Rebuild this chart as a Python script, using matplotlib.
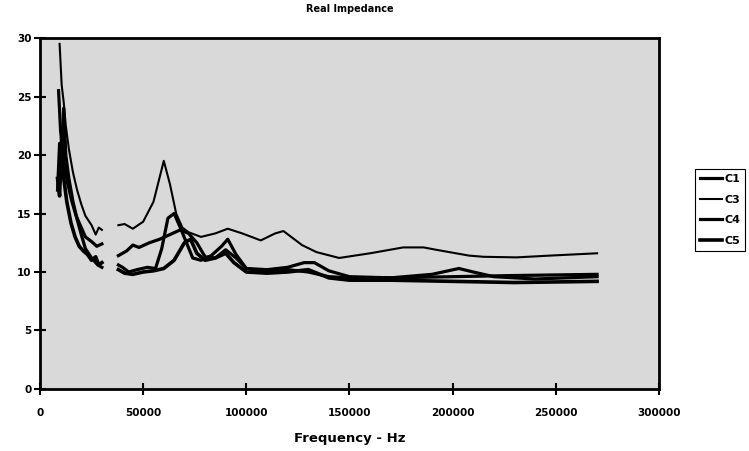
import numpy as np
import matplotlib
matplotlib.use("Agg")
import matplotlib.pyplot as plt

# low-frequency sweep (Hz, ohms)
f_low_c1 = [8500, 9500, 10500, 11500, 12500, 14000, 16000, 18000, 20000, 22000, 25000, 28000, 30000]
z_low_c1 = [17.0, 21.0, 18.5, 24.0, 20.0, 18.0, 16.0, 14.5, 13.2, 12.0, 11.2, 10.6, 10.4]
f_low_c3 = [9500, 10500, 11500, 12500, 14000, 16000, 18000, 20000, 22000, 25000, 27000, 28500, 30000]
z_low_c3 = [29.5, 26.0, 24.5, 22.5, 20.5, 18.5, 17.0, 15.8, 14.8, 14.0, 13.2, 13.8, 13.6]
f_low_c4 = [9000, 10000, 11000, 12000, 13500, 15500, 17500, 20000, 22000, 25000, 27500, 30000]
z_low_c4 = [25.5, 22.0, 20.5, 19.0, 17.5, 16.0, 14.8, 13.8, 13.0, 12.6, 12.2, 12.4]
f_low_c5 = [8500, 9500, 10500, 11500, 13000, 15000, 17000, 19000, 21000, 23000, 25000, 27000, 28500, 30000]
z_low_c5 = [18.0, 16.5, 21.5, 18.0, 16.0, 14.2, 13.0, 12.2, 11.8, 11.5, 11.0, 11.3, 10.6, 10.8]

# high-frequency sweep
f_hi_c1 = [38000, 42000, 45000, 48000, 53000, 58000, 63000, 68000, 72000, 76000, 80000, 85000,
           90000, 95000, 100000, 110000, 120000, 128000, 133000, 140000, 150000, 170000, 200000,
           230000, 270000]
z_hi_c1 = [11.4, 11.8, 12.3, 12.1, 12.5, 12.8, 13.2, 13.6, 13.3, 12.5, 11.3, 11.2,
           11.9, 11.2, 10.3, 10.2, 10.4, 10.8, 10.8, 10.1, 9.6, 9.5, 9.6,
           9.7, 9.8]
f_hi_c3 = [38000, 41000, 45000, 50000, 55000, 60000, 63000, 66000, 69000, 72000, 78000, 85000,
           91000, 98000, 107000, 114000, 118000, 127000, 134000, 145000, 160000, 176000, 186000,
           192000, 208000, 215000, 231000, 247000, 270000]
z_hi_c3 = [14.0, 14.1, 13.7, 14.3, 16.0, 19.5, 17.5, 15.0, 13.8, 13.4, 13.0, 13.3,
           13.7, 13.3, 12.7, 13.3, 13.5, 12.3, 11.7, 11.2, 11.6, 12.1, 12.1,
           11.9, 11.4, 11.3, 11.25, 11.4, 11.6]
f_hi_c4 = [38000, 40000, 43000, 47000, 52000, 56000, 59000, 62000, 65000, 68000, 71000, 74000,
           78000, 83000, 88000, 91000, 95000, 100000, 110000, 120000, 130000, 140000, 150000,
           170000, 190000, 203000, 210000, 220000, 240000, 270000]
z_hi_c4 = [10.6, 10.4, 10.0, 10.2, 10.4, 10.3, 12.0, 14.6, 15.0, 13.8, 12.5, 11.2,
           11.0, 11.4, 12.2, 12.8, 11.5, 10.3, 10.0, 10.2, 10.0, 9.6, 9.5,
           9.5, 9.8, 10.3, 10.0, 9.6, 9.4, 9.6]
f_hi_c5 = [38000, 41000, 45000, 50000, 55000, 60000, 65000, 70000, 73000, 76000, 80000, 85000,
           90000, 94000, 100000, 110000, 120000, 130000, 140000, 150000, 170000, 200000, 230000,
           270000]
z_hi_c5 = [10.2, 9.9, 9.8, 10.0, 10.1, 10.3, 11.0, 12.5, 12.8, 11.6, 11.0, 11.2,
           11.6, 10.8, 10.0, 9.9, 10.0, 10.2, 9.5, 9.3, 9.3, 9.2, 9.1,
           9.2]

series = [
    ("C1", f_low_c1, z_low_c1, f_hi_c1, z_hi_c1, 2.3),
    ("C3", f_low_c3, z_low_c3, f_hi_c3, z_hi_c3, 1.5),
    ("C4", f_low_c4, z_low_c4, f_hi_c4, z_hi_c4, 2.3),
    ("C5", f_low_c5, z_low_c5, f_hi_c5, z_hi_c5, 2.6),
]

fig = plt.figure(figsize=(7.49, 4.51), dpi=100)
ax = fig.add_axes([0.0534, 0.1375, 0.8264, 0.7782])
ax.set_facecolor("#d9d9d9")

for name, fl, zl, fh, zh, lw in series:
    # break the line between the two sweeps
    f = list(fl) + [np.nan] + list(fh)
    z = list(zl) + [np.nan] + list(zh)
    ax.plot(f, z, color="black", linewidth=lw, label=name, solid_joinstyle="round")

ax.set_xlim(0, 300000)
ax.set_ylim(0, 30)
ax.set_xticks(np.arange(0, 300001, 50000))
ax.set_yticks(np.arange(0, 31, 5))
ax.tick_params(direction="inout", length=8, width=1.5, labelsize=7.5, pad=2)
ax.tick_params(axis="x", pad=10)
for lab in ax.get_xticklabels() + ax.get_yticklabels():
    lab.set_fontweight("bold")
for s in ax.spines.values():
    s.set_linewidth(2)

ax.set_title("Real Impedance", fontsize=7, fontweight="bold", pad=19)
ax.set_xlabel("Frequency - Hz", fontsize=9.5, fontweight="bold", labelpad=10)

leg = fig.legend(loc="upper left", bbox_to_anchor=(695 / 749, 1 - 169 / 451),
                 prop={"weight": "bold", "size": 8}, fancybox=False,
                 edgecolor="black", framealpha=1, handlelength=2.0, handletextpad=0.2,
                 labelspacing=0.95, borderpad=0.45, borderaxespad=0)
leg.get_frame().set_linewidth(0.8)

fig.savefig("out.png", dpi=100)
